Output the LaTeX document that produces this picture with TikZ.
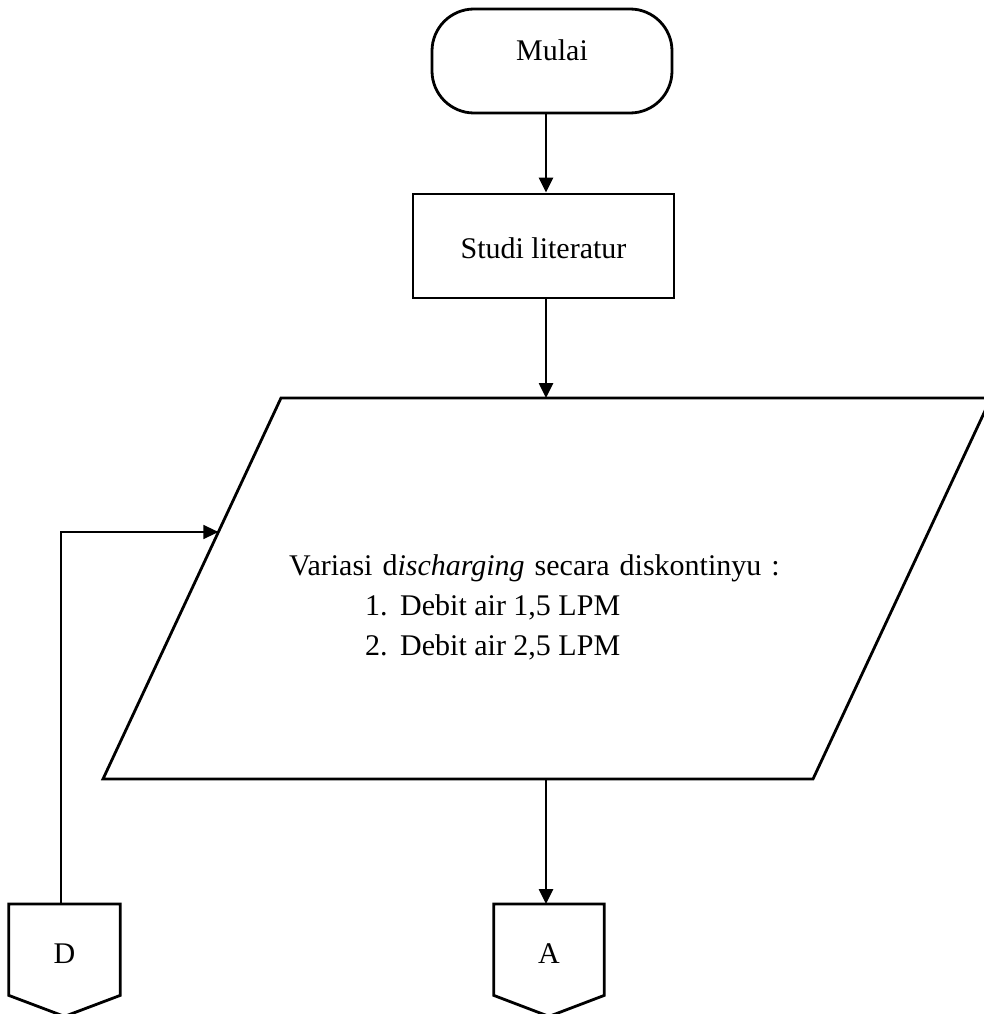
\documentclass[tikz,border=0pt]{standalone}
\usepackage{fontspec}
\setmainfont{Liberation Serif}
\usetikzlibrary{arrows.meta,calc}
\begin{document}
\begin{tikzpicture}[x=1pt,y=-1pt,
  every node/.style={font=\fontsize{30}{40}\selectfont},
  shp/.style={draw,line width=2.8pt,line join=miter},
  arr/.style={line width=2.6pt,-{Triangle[length=15pt,width=14pt]}},
  thinarr/.style={line width=1.4pt,-{Triangle[length=15pt,width=14pt]}},
  txt/.style={anchor=base west,inner sep=0pt}]
\useasboundingbox (0,0) rectangle (984,1014);
\coordinate (xcol) at (546,0);
% Mulai
\node[shp,rounded corners=42pt,minimum width=240pt,minimum height=104pt,inner sep=0pt,
      text height=20pt,text depth=20pt] (mulai) at (552,61) {Mulai};
% Studi literatur
\node[shp,minimum width=261pt,minimum height=104pt,inner sep=0pt,
      text height=24pt,text depth=0pt] (studi) at (543.5,246) {Studi literatur};
% Parallelogram
\draw[shp] (103,779) coordinate (pbl) -- (813,779) coordinate (pbr)
  -- (991,398) coordinate (ptr) -- (281,398) coordinate (ptl) -- cycle;
\coordinate (pin) at ($(pbl)!0.6483!(ptl)$);
\node[txt] (var) at (289,575) {\spaceskip=10pt Variasi d\textit{ischarging} secara diskontinyu :};
\node[txt] (it1) at (365,615) {\makebox[35pt][l]{1.}Debit air 1,5 LPM};
\node[txt] (it2) at (365,655) {\makebox[35pt][l]{2.}Debit air 2,5 LPM};
% Off-page connectors
\node[minimum width=111pt,minimum height=91pt,inner sep=0pt,anchor=north,
      text height=27pt,text depth=0pt] (D) at (64.5,904) {D};
\node[minimum width=110pt,minimum height=91pt,inner sep=0pt,anchor=north,
      text height=27pt,text depth=0pt] (A) at (549,904) {A};
\draw[shp] (D.north west) -- (D.south west) -- ($(D.south)+(0,21)$) -- (D.south east) -- (D.north east) -- cycle;
\draw[shp] (A.north west) -- (A.south west) -- ($(A.south)+(0,21)$) -- (A.south east) -- (A.north east) -- cycle;
% Connectors
\draw[arr] (mulai.south -| xcol) -- (studi.north -| xcol);
\draw[arr] (studi.south -| xcol) -- (ptl -| xcol);
\draw[arr] (pbl -| xcol) -- (A.north -| xcol);
\draw[thinarr] ($(D.north)+(-3.5,0)$) |- (pin);
\end{tikzpicture}
\end{document}
